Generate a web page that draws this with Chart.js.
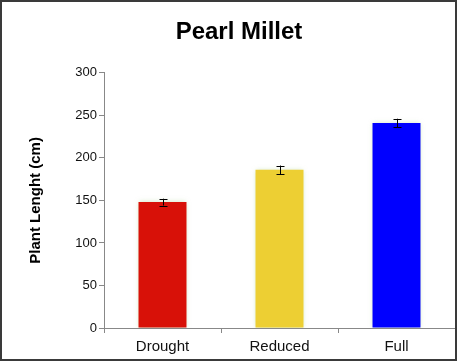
<!DOCTYPE html>
<html>
<head>
<meta charset="utf-8">
<script src="https://cdn.jsdelivr.net/npm/chart.js@4.4.0/dist/chart.umd.min.js"></script>
<style>
  html, body { margin: 0; padding: 0; background: #fff; }
  #wrap { width: 457px; height: 361px; position: relative; }
</style>
</head>
<body>
<div id="wrap"><canvas id="chart" width="457" height="361"></canvas></div>
<script>
const categories = ['Drought', 'Reduced', 'Full'];
const plantLength = [148, 186, 241];
const stdError = [4, 5, 5];
const barColors = ['#D81108', '#EDCF33', '#0000FF'];
const yTicks = [0, 50, 100, 150, 200, 250, 300];

// error bars drawn from the data through the y scale
const errorBars = {
  id: 'errorBars',
  afterDatasetsDraw(chart) {
    const ctx = chart.ctx;
    const meta = chart.getDatasetMeta(0);
    const y = chart.scales.y;
    ctx.save();
    ctx.strokeStyle = '#000';
    ctx.lineWidth = 1;
    meta.data.forEach((bar, i) => {
      const top = y.getPixelForValue(plantLength[i] + stdError[i]);
      const bot = y.getPixelForValue(plantLength[i] - stdError[i]);
      const x = Math.round(bar.x) + 0.5;
      ctx.beginPath();
      ctx.moveTo(x, top); ctx.lineTo(x, bot);
      ctx.moveTo(x - 4, Math.round(top) + 0.5); ctx.lineTo(x + 4, Math.round(top) + 0.5);
      ctx.moveTo(x - 4, Math.round(bot) + 0.5); ctx.lineTo(x + 4, Math.round(bot) + 0.5);
      ctx.stroke();
    });
    ctx.restore();
  }
};

// faint glow around the bars, and the outer frame
const frame = {
  id: 'frame',
  beforeDatasetsDraw(chart) {
    chart.ctx.save();
    chart.ctx.shadowColor = 'rgba(170, 210, 140, 0.6)';
    chart.ctx.shadowBlur = 5;
  },
  afterDatasetsDraw(chart) {
    chart.ctx.restore();
  },
  afterDraw(chart) {
    const ctx = chart.ctx;
    ctx.save();
    ctx.strokeStyle = '#3a3a3a';
    ctx.lineWidth = 2;
    ctx.strokeRect(1, 1, chart.width - 2, chart.height - 2);
    ctx.restore();
  }
};

new Chart(document.getElementById('chart').getContext('2d'), {
  type: 'bar',
  data: {
    labels: categories,
    datasets: [{
      data: plantLength,
      backgroundColor: barColors,
      borderWidth: 0,
      barPercentage: 0.41,
      categoryPercentage: 1
    }]
  },
  options: {
    responsive: false,
    animation: false,
    layout: { padding: { left: 23, right: 2, top: 0, bottom: 2 } },
    plugins: {
      legend: { display: false },
      tooltip: { enabled: false },
      title: {
        display: true,
        text: 'Pearl Millet',
        color: '#000',
        font: { family: 'Arial, "Liberation Sans"', size: 24, weight: 'bold' },
        padding: { top: 18, bottom: 26 }
      }
    },
    scales: {
      x: {
        afterFit(scale) { scale.height = 31; },
        grid: { display: true, drawOnChartArea: false, drawTicks: true, tickLength: 5, color: '#888', offset: true },
        border: { color: '#888' },
        ticks: { color: '#111', font: { family: 'Arial, "Liberation Sans"', size: 15 }, padding: 5 }
      },
      y: {
        min: 0,
        max: 300,
        afterFit(scale) { scale.width = 81; },
        afterBuildTicks(scale) { scale.ticks = yTicks.map(v => ({ value: v })); },
        grid: { display: true, drawOnChartArea: false, drawTicks: true, tickLength: 5, color: '#888' },
        border: { color: '#888' },
        ticks: { color: '#111', font: { family: 'Arial, "Liberation Sans"', size: 13 }, padding: 2 },
        title: {
          display: true,
          text: 'Plant Lenght (cm)',
          color: '#000',
          font: { family: 'Arial, "Liberation Sans"', size: 15, weight: 'bold' },
          padding: { top: 4, bottom: 4 }
        }
      }
    }
  },
  plugins: [frame, errorBars]
});
</script>
</body>
</html>
